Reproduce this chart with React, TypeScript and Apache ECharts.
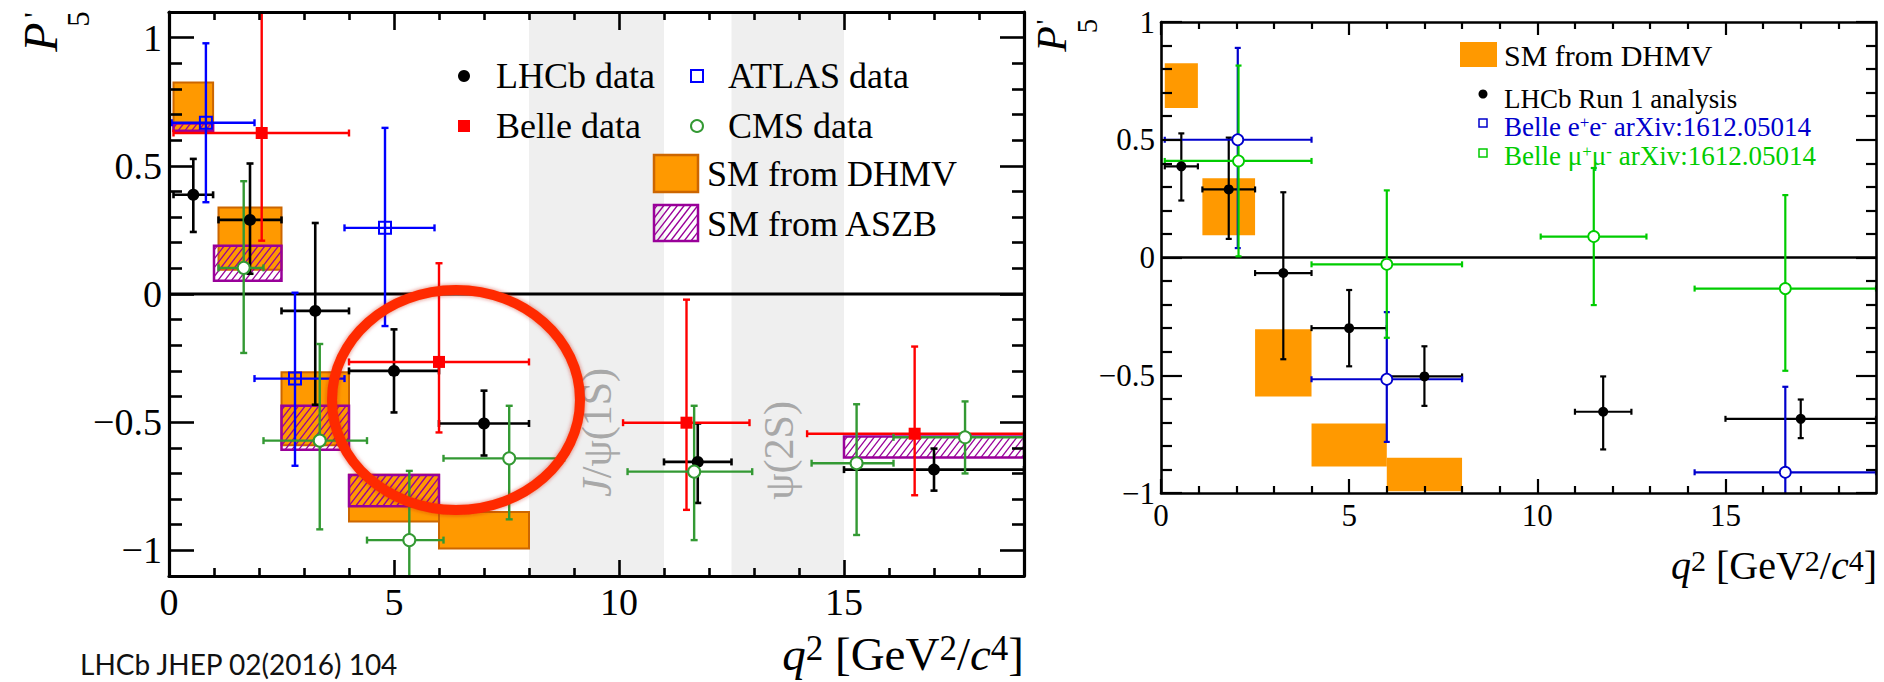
import React, { useEffect, useRef } from 'react';
import * as echarts from 'echarts';

const SERIF = '"Liberation Serif", "Times New Roman", serif';

// ---------------- axis ticks ----------------
const xMajor = [0, 5, 10, 15];
const xMinor = [1, 2, 3, 4, 6, 7, 8, 9, 11, 12, 13, 14, 16, 17, 18];
const yMajor = [-1, -0.5, 0, 0.5, 1];
const yMinor = [-0.9, -0.8, -0.7, -0.6, -0.4, -0.3, -0.2, -0.1, 0.1, 0.2, 0.3, 0.4, 0.6, 0.7, 0.8, 0.9];

// ---------------- LHCb Run 1 (both panels) ----------------
const lhcbX = [0.54, 1.8, 3.25, 5.0, 7.0, 11.75, 17.0];
const lhcbXLo = [0.1, 1.1, 2.5, 4.0, 6.0, 11.0, 15.0];
const lhcbXHi = [0.98, 2.5, 4.0, 6.0, 8.0, 12.5, 19.0];
const lhcbY = [0.387, 0.289, -0.066, -0.3, -0.505, -0.655, -0.685];
const lhcbUp = [0.14, 0.22, 0.343, 0.162, 0.128, 0.15, 0.082];
const lhcbDn = [0.145, 0.21, 0.366, 0.162, 0.125, 0.16, 0.082];

// ---------------- Belle (left) ----------------
const belleX = [2.06, 6.0, 11.5, 16.57];
const belleXLo = [0.1, 4.0, 10.09, 14.18];
const belleXHi = [4.0, 8.0, 12.9, 19.0];
const belleY = [0.628, -0.265, -0.502, -0.545];
const belleUp = [0.6, 0.385, 0.48, 0.34];
const belleDn = [0.42, 0.275, 0.34, 0.24];

// ---------------- ATLAS (left) ----------------
const atlasX = [0.82, 2.8, 4.8];
const atlasXLo = [0.06, 1.9, 3.9];
const atlasXHi = [1.9, 3.9, 5.9];
const atlasY = [0.668, -0.33, 0.258];
const atlasUp = [0.31, 0.335, 0.39];
const atlasDn = [0.31, 0.34, 0.383];

// ---------------- CMS (left) ----------------
const cmsX = [1.66, 3.35, 5.34, 7.56, 11.67, 15.28, 17.69];
const cmsXLo = [1.1, 2.1, 4.4, 6.1, 10.19, 14.28, 16.1];
const cmsXHi = [2.1, 4.4, 6.1, 8.78, 12.96, 16.1, 19.0];
const cmsY = [0.102, -0.572, -0.96, -0.641, -0.693, -0.66, -0.559];
const cmsUp = [0.338, 0.377, 0.27, 0.205, 0.257, 0.23, 0.14];
const cmsDn = [0.332, 0.346, 0.25, 0.238, 0.267, 0.28, 0.141];

// ---------------- SM predictions ----------------
const dhmvXLo = [0.1, 1.1, 2.5, 4.0, 6.0];
const dhmvXHi = [0.98, 2.5, 4.0, 6.0, 8.0];
const dhmvLo = [0.635, 0.095, -0.59, -0.887, -0.993];
const dhmvHi = [0.825, 0.337, -0.305, -0.705, -0.85];

const aszbXLo = [0.1, 1.0, 2.5, 4.0, 15.0];
const aszbXHi = [0.98, 2.5, 4.0, 6.0, 19.0];
const aszbLo = [0.637, 0.052, -0.608, -0.828, -0.638];
const aszbHi = [0.665, 0.188, -0.436, -0.706, -0.556];

// ---------------- Belle arXiv:1612.05014 (right) ----------------
const belleEEX = [2.04, 6.0, 16.59];
const belleEEXLo = [0.1, 4.0, 14.18];
const belleEEXHi = [4.0, 8.0, 19.0];
const belleEEY = [0.5, -0.517, -0.912];
const belleEEUp = [0.39, 0.285, 0.363];
const belleEEDn = [0.46, 0.266, 0.3];

const belleMMX = [2.06, 6.0, 11.5, 16.59];
const belleMMXLo = [0.1, 4.0, 10.09, 14.18];
const belleMMXHi = [4.0, 8.0, 12.9, 19.0];
const belleMMY = [0.41, -0.029, 0.089, -0.132];
const belleMMUp = [0.405, 0.314, 0.291, 0.397];
const belleMMDn = [0.405, 0.312, 0.291, 0.349];

// ---------------- vetoed charmonium regions ----------------
const bandLo = [8, 12.5];
const bandHi = [11, 15];
const bandLabels = ['J/ψ(1S)', 'ψ(2S)'];
const bandLabelX = [9.5, 13.55];
const bandLabelY = [-0.54, -0.61];
const zeroLineX = [0, 19];

const ORANGE = '#ff9900';
const ORANGE_EDGE = '#cc6600';
const PURPLE = '#990099';

function hatch(x: number, y: number, w: number, h: number, s: number, k: number) {
  const out: number[][] = [];
  const cMin = k * x + y;
  const cMax = k * (x + w) + y + h;
  for (let c = cMin + k * s * 0.5; c < cMax; c += k * s) {
    const p1 = Math.max(x, (c - y - h) / k);
    const p2 = Math.min(x + w, (c - y) / k);
    if (p2 > p1) out.push([p1, c - k * p1, p2, c - k * p2]);
  }
  return out;
}

function errorBars(ai: number, xs: number[], xlo: number[], xhi: number[], ys: number[], up: number[], dn: number[], color: string, lw: number, cap: number, z: number) {
  const data = xs.map((x, i) => [x, xlo[i], xhi[i], ys[i], ys[i] - dn[i], ys[i] + up[i]]);
  return {
    type: 'custom', xAxisIndex: ai, yAxisIndex: ai, clip: true, z, silent: true,
    data, encode: { x: [0, 1, 2], y: [3, 4, 5] },
    renderItem: (_p: any, api: any) => {
      const x = api.value(0), xl = api.value(1), xh = api.value(2);
      const y = api.value(3), yl = api.value(4), yh = api.value(5);
      const c = api.coord([x, y]);
      const l = api.coord([xl, y]);
      const r = api.coord([xh, y]);
      const t = api.coord([x, yh]);
      const b = api.coord([x, yl]);
      const style = { stroke: color, lineWidth: lw };
      const seg = (x1: number, y1: number, x2: number, y2: number) => ({ type: 'line', shape: { x1, y1, x2, y2 }, style });
      return {
        type: 'group',
        children: [
          seg(l[0], c[1], r[0], c[1]),
          seg(c[0], t[1], c[0], b[1]),
          seg(l[0], c[1] - cap, l[0], c[1] + cap),
          seg(r[0], c[1] - cap, r[0], c[1] + cap),
          seg(c[0] - cap, t[1], c[0] + cap, t[1]),
          seg(c[0] - cap, b[1], c[0] + cap, b[1]),
        ],
      };
    },
  };
}

function markers(ai: number, xs: number[], ys: number[], symbol: string, size: number, fill: string, stroke: string, bw: number, z: number) {
  return {
    type: 'scatter', xAxisIndex: ai, yAxisIndex: ai, z, silent: true,
    data: xs.map((x, i) => [x, ys[i]]),
    symbol, symbolSize: size,
    itemStyle: { color: fill, borderColor: stroke, borderWidth: bw, opacity: 1 },
  };
}

function boxes(ai: number, xlo: number[], xhi: number[], lo: number[], hi: number[], fill: string, stroke: string | null, lw: number, z: number) {
  return {
    type: 'custom', xAxisIndex: ai, yAxisIndex: ai, clip: true, z, silent: true,
    data: xlo.map((x, i) => [x, xhi[i], lo[i], hi[i]]),
    encode: { x: [0, 1], y: [2, 3] },
    renderItem: (_p: any, api: any) => {
      const a = api.coord([api.value(0), api.value(3)]);
      const b = api.coord([api.value(1), api.value(2)]);
      return {
        type: 'rect',
        shape: { x: a[0], y: a[1], width: b[0] - a[0], height: b[1] - a[1] },
        style: { fill, stroke: stroke || 'none', lineWidth: lw },
      };
    },
  };
}

function hatchedBoxes(ai: number, xlo: number[], xhi: number[], lo: number[], hi: number[], z: number) {
  return {
    type: 'custom', xAxisIndex: ai, yAxisIndex: ai, clip: true, z, silent: true,
    data: xlo.map((x, i) => [x, xhi[i], lo[i], hi[i]]),
    encode: { x: [0, 1], y: [2, 3] },
    renderItem: (_p: any, api: any) => {
      const a = api.coord([api.value(0), api.value(3)]);
      const b = api.coord([api.value(1), api.value(2)]);
      const x = a[0], y = a[1], w = b[0] - a[0], h = b[1] - a[1];
      const lines = hatch(x, y, w, h, 6.8, 1.3).map(([x1, y1, x2, y2]) => ({
        type: 'line', shape: { x1, y1, x2, y2 }, style: { stroke: PURPLE, lineWidth: 1.3 },
      }));
      return {
        type: 'group',
        children: [...lines, { type: 'rect', shape: { x, y, width: w, height: h }, style: { fill: 'none', stroke: PURPLE, lineWidth: 2.5 } }],
      };
    },
  };
}

function zeroLine(ai: number, lw: number, z: number) {
  return {
    type: 'custom', xAxisIndex: ai, yAxisIndex: ai, clip: true, z, silent: true,
    data: [[zeroLineX[0], zeroLineX[1], 0]],
    encode: { x: [0, 1], y: [2] },
    renderItem: (_p: any, api: any) => {
      const a = api.coord([api.value(0), api.value(2)]);
      const b = api.coord([api.value(1), api.value(2)]);
      return { type: 'line', shape: { x1: a[0], y1: a[1], x2: b[0], y2: b[1] }, style: { stroke: '#000', lineWidth: lw } };
    },
  };
}

function bands(ai: number, z: number) {
  return {
    type: 'custom', xAxisIndex: ai, yAxisIndex: ai, clip: true, z, silent: true,
    data: bandLo.map((lo, i) => [lo, bandHi[i], bandLabelX[i], bandLabelY[i]]),
    encode: { x: [0, 1], y: [3] },
    renderItem: (params: any, api: any) => {
      const cs = params.coordSys;
      const a = api.coord([api.value(0), 0]);
      const b = api.coord([api.value(1), 0]);
      const lp = api.coord([api.value(2), api.value(3)]);
      const label = bandLabels[params.dataIndex];
      const text = label.startsWith('J/') ? '{i|J}' + label.slice(1) : label;
      return {
        type: 'group',
        children: [
          { type: 'rect', shape: { x: a[0], y: cs.y, width: b[0] - a[0], height: cs.height }, style: { fill: '#efefef' } },
          {
            type: 'text', x: lp[0], y: lp[1], rotation: Math.PI / 2,
            style: {
              text, fill: '#a8a8a8', fontFamily: SERIF, fontSize: 42, align: 'center', verticalAlign: 'middle',
              rich: { i: { fontStyle: 'italic', fontFamily: SERIF, fontSize: 42, fill: '#a8a8a8' } },
            },
          },
        ],
      };
    },
  };
}

const fmt = (v: number) => (v < 0 ? '\u2212' + String(-v) : String(v));

function panelAxes(grid: number, yRange: number[], s: any) {
  const lineStyle = { color: '#000', width: s.lw };
  const tickStyle = { color: '#000', width: s.tw };
  const label = { show: true, fontFamily: SERIF, fontSize: s.font, color: '#000', formatter: fmt };
  const mk = (dim: 'x' | 'y', position: string, len: number, values: number[], showLine: boolean, showLabel: boolean, margin: number) => ({
    type: 'value', gridIndex: grid, position, z: 10,
    min: dim === 'x' ? 0 : yRange[0], max: dim === 'x' ? 19 : yRange[1],
    axisLine: { show: showLine, onZero: false, lineStyle },
    axisTick: { show: true, inside: true, length: len, customValues: values, lineStyle: tickStyle },
    axisLabel: showLabel ? { ...label, margin, customValues: values } : { show: false },
    splitLine: { show: false },
    minorTick: { show: false },
  });
  return {
    x: [
      mk('x', 'bottom', s.xMaj, xMajor, true, true, s.xMargin),
      mk('x', 'bottom', s.xMin, xMinor, false, false, 0),
      mk('x', 'top', s.xMajT, xMajor, true, false, 0),
      mk('x', 'top', s.xMinT, xMinor, false, false, 0),
    ],
    y: [
      mk('y', 'left', s.yMaj, yMajor, true, true, s.yMargin),
      mk('y', 'left', s.yMin, yMinor, false, false, 0),
      mk('y', 'right', s.yMajR, yMajor, true, false, 0),
      mk('y', 'right', s.yMinR, yMinor, false, false, 0),
    ],
  };
}

function legendGraphics() {
  const els: any[] = [];
  const txt = (x: number, y: number, text: string, fs: number, fill = '#000', rich?: any) => ({
    type: 'text', x, y, z: 50,
    style: { text, fontFamily: SERIF, fontSize: fs, fill, align: 'left', verticalAlign: 'middle', rich },
  });
  // left legend
  els.push({ type: 'circle', shape: { cx: 464, cy: 76, r: 6 }, style: { fill: '#000' }, z: 50 });
  els.push(txt(496, 76, 'LHCb data', 36));
  els.push({ type: 'rect', shape: { x: 458, y: 120, width: 12, height: 12 }, style: { fill: '#ff0000' }, z: 50 });
  els.push(txt(496, 126, 'Belle data', 36));
  els.push({ type: 'rect', shape: { x: 691, y: 70, width: 12, height: 12 }, style: { fill: 'none', stroke: '#0000ff', lineWidth: 2 }, z: 50 });
  els.push(txt(728, 76, 'ATLAS data', 36));
  els.push({ type: 'circle', shape: { cx: 697, cy: 126, r: 6 }, style: { fill: '#fff', stroke: '#339933', lineWidth: 2 }, z: 50 });
  els.push(txt(728, 126, 'CMS data', 36));
  els.push({ type: 'rect', shape: { x: 654, y: 155, width: 44, height: 37 }, style: { fill: ORANGE, stroke: ORANGE_EDGE, lineWidth: 2.5 }, z: 50 });
  els.push(txt(707, 174, 'SM from DHMV', 36));
  hatch(654, 205, 44, 36, 6.8, 1.3).forEach(([x1, y1, x2, y2]) =>
    els.push({ type: 'line', shape: { x1, y1, x2, y2 }, style: { stroke: PURPLE, lineWidth: 1.3 }, z: 50 }));
  els.push({ type: 'rect', shape: { x: 654, y: 205, width: 44, height: 36 }, style: { fill: 'none', stroke: PURPLE, lineWidth: 2.5 }, z: 50 });
  els.push(txt(707, 224, 'SM from ASZB', 36));

  // right legend
  els.push({ type: 'rect', shape: { x: 1460, y: 42, width: 37, height: 25 }, style: { fill: ORANGE }, z: 50 });
  els.push(txt(1504, 55, 'SM from DHMV', 30));
  els.push({ type: 'circle', shape: { cx: 1483, cy: 94, r: 4.5 }, style: { fill: '#000' }, z: 50 });
  els.push(txt(1504, 99, 'LHCb Run 1 analysis', 27));
  els.push({ type: 'rect', shape: { x: 1479, y: 119, width: 8, height: 8 }, style: { fill: 'none', stroke: '#0000cc', lineWidth: 1.5 }, z: 50 });
  const sup = (c: string) => ({ fontSize: 17, fontFamily: SERIF, fill: c, verticalAlign: 'top' });
  els.push(txt(1504, 127, 'Belle e{s|+}e{s|-} arXiv:1612.05014', 27, '#0000cc', { s: sup('#0000cc') }));
  els.push({ type: 'rect', shape: { x: 1479, y: 149, width: 8, height: 8 }, style: { fill: 'none', stroke: '#00cc00', lineWidth: 1.5 }, z: 50 });
  els.push(txt(1504, 156, 'Belle μ{s|+}μ{s|-} arXiv:1612.05014', 27, '#00cc00', { s: sup('#00cc00') }));

  // y titles P'5
  const rot = (x: number, y: number, text: string, fs: number, italic: boolean) => ({
    type: 'text', x, y, rotation: Math.PI / 2, z: 50,
    style: { text, fontFamily: SERIF, fontSize: fs, fontStyle: italic ? 'italic' : 'normal', fill: '#000', align: 'center', verticalAlign: 'middle' },
  });
  els.push(rot(40, 37, 'P', 48, true));
  els.push(rot(33, 15, "'", 30, false));
  els.push(rot(78, 19, '5', 31, false));
  els.push(rot(1052, 39, 'P', 42, true));
  els.push(rot(1045, 22, "'", 26, false));
  els.push(rot(1087, 26, '5', 29, false));

  // x titles
  const xt = (x: number, y: number, fs: number) => ({
    type: 'text', x, y, z: 50,
    style: {
      text: '{i|q}{s|2} [GeV{s|2}/{i|c}{s|4}]', fontFamily: SERIF, fontSize: fs, fill: '#000', align: 'right', verticalAlign: 'middle',
      rich: {
        i: { fontStyle: 'italic', fontFamily: SERIF, fontSize: fs, fill: '#000' },
        s: { fontFamily: SERIF, fontSize: Math.round(fs * 0.74), fill: '#000', verticalAlign: 'top' },
      },
    },
  });
  els.push(xt(1024, 654, 47));
  els.push(xt(1877, 565, 40));

  // reference text
  els.push({ type: 'text', x: 80, y: 664, z: 50, style: { text: 'LHCb JHEP 02(2016) 104', fontFamily: 'Lato, "Open Sans", sans-serif', fontSize: 28, fill: '#111', align: 'left', verticalAlign: 'middle' } });

  // red circle annotation
  els.push({ type: 'ellipse', shape: { cx: 456, cy: 400, rx: 124, ry: 110 }, style: { fill: 'none', stroke: '#ff2a00', lineWidth: 10, shadowBlur: 4, shadowColor: 'rgba(200,30,0,0.6)' }, z: 100 });
  return els;
}

function buildOption() {
  const left = panelAxes(0, [-1.1, 1.1], { lw: 3.2, tw: 2.6, font: 38, xMaj: 16, xMin: 8, xMajT: 18, xMinT: 8, yMaj: 25, yMin: 13, yMajR: 24, yMinR: 12, xMargin: 7, yMargin: 7 });
  const right = panelAxes(1, [-1, 1], { lw: 2.6, tw: 2.2, font: 31, xMaj: 14, xMin: 7, xMajT: 13, xMinT: 7, yMaj: 21, yMin: 11, yMajR: 20, yMinR: 10, xMargin: 7, yMargin: 6 });
  return {
    animation: false,
    backgroundColor: '#fff',
    grid: [
      { left: 169, top: 12, width: 855, height: 564, containLabel: false, outerBoundsMode: 'none' },
      { left: 1161, top: 22, width: 715, height: 471, containLabel: false, outerBoundsMode: 'none' },
    ],
    xAxis: [...left.x, ...right.x],
    yAxis: [...left.y, ...right.y],
    series: [
      // left panel (axis index 0)
      bands(0, 1),
      boxes(0, dhmvXLo, dhmvXHi, dhmvLo, dhmvHi, ORANGE, ORANGE_EDGE, 2, 2),
      hatchedBoxes(0, aszbXLo, aszbXHi, aszbLo, aszbHi, 3),
      zeroLine(0, 3, 4),
      errorBars(0, lhcbX, lhcbXLo, lhcbXHi, lhcbY, lhcbUp, lhcbDn, '#000', 2.6, 3.5, 5),
      errorBars(0, belleX, belleXLo, belleXHi, belleY, belleUp, belleDn, '#ff0000', 2.4, 3.5, 5),
      errorBars(0, atlasX, atlasXLo, atlasXHi, atlasY, atlasUp, atlasDn, '#0000ff', 2.4, 3.5, 5),
      errorBars(0, cmsX, cmsXLo, cmsXHi, cmsY, cmsUp, cmsDn, '#339933', 2.4, 3.5, 5),
      markers(0, lhcbX, lhcbY, 'circle', 12, '#000', '#000', 0, 6),
      markers(0, belleX, belleY, 'rect', 12, '#ff0000', '#ff0000', 0, 6),
      markers(0, atlasX, atlasY, 'rect', 12, 'rgba(0,0,0,0)', '#0000ff', 2, 6),
      markers(0, cmsX, cmsY, 'circle', 12, '#ffffff', '#339933', 2, 6),
      // right panel (axis index 4)
      boxes(4, dhmvXLo, dhmvXHi, dhmvLo, dhmvHi, ORANGE, null, 0, 2),
      zeroLine(4, 2.6, 4),
      errorBars(4, lhcbX, lhcbXLo, lhcbXHi, lhcbY, lhcbUp, lhcbDn, '#000', 2.2, 3, 5),
      errorBars(4, belleEEX, belleEEXLo, belleEEXHi, belleEEY, belleEEUp, belleEEDn, '#0000cc', 2.2, 3, 5),
      errorBars(4, belleMMX, belleMMXLo, belleMMXHi, belleMMY, belleMMUp, belleMMDn, '#00cc00', 2.2, 3, 5),
      markers(4, lhcbX, lhcbY, 'circle', 10, '#000', '#000', 0, 6),
      markers(4, belleEEX, belleEEY, 'circle', 11, '#ffffff', '#0000cc', 1.8, 6),
      markers(4, belleMMX, belleMMY, 'circle', 11, '#ffffff', '#00cc00', 1.8, 6),
    ],
    graphic: { elements: legendGraphics() },
  };
}

export default function App() {
  const ref = useRef<HTMLDivElement>(null);
  useEffect(() => {
    document.body.style.margin = '0';
    const chart = echarts.init(ref.current!, null, { renderer: 'svg' });
    chart.setOption(buildOption() as any);
    return () => chart.dispose();
  }, []);
  return <div ref={ref} style={{ width: 1884, height: 682, overflow: 'hidden' }} />;
}
